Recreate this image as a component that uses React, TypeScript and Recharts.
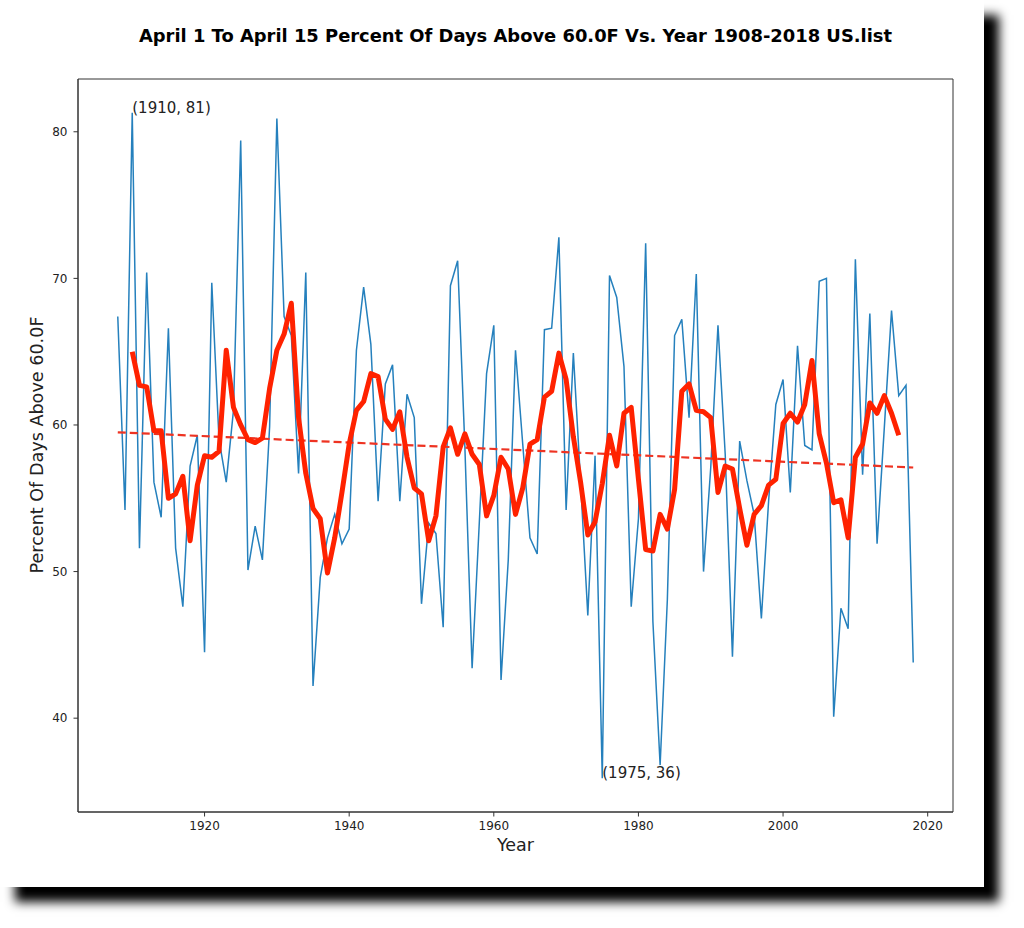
import { Line, LineChart, ReferenceArea, ReferenceDot, XAxis, YAxis } from "recharts";

// April 1-15, percent of days above 60.0F, US.list, 1908-2018
const years = [
	1908, 1909, 1910, 1911, 1912, 1913, 1914, 1915, 1916, 1917, 1918, 1919, 1920, 1921, 1922, 1923, 1924, 1925,
	1926, 1927, 1928, 1929, 1930, 1931, 1932, 1933, 1934, 1935, 1936, 1937, 1938, 1939, 1940, 1941, 1942, 1943,
	1944, 1945, 1946, 1947, 1948, 1949, 1950, 1951, 1952, 1953, 1954, 1955, 1956, 1957, 1958, 1959, 1960, 1961,
	1962, 1963, 1964, 1965, 1966, 1967, 1968, 1969, 1970, 1971, 1972, 1973, 1974, 1975, 1976, 1977, 1978, 1979,
	1980, 1981, 1982, 1983, 1984, 1985, 1986, 1987, 1988, 1989, 1990, 1991, 1992, 1993, 1994, 1995, 1996, 1997,
	1998, 1999, 2000, 2001, 2002, 2003, 2004, 2005, 2006, 2007, 2008, 2009, 2010, 2011, 2012, 2013, 2014, 2015,
	2016, 2017, 2018,
];

const percentAbove = [
	67.4, 54.2, 81.3, 51.6, 70.4, 56.1, 53.7, 66.6, 51.6, 47.6, 57.2, 59.3, 44.5, 69.7, 59.0, 56.1, 61.0, 79.4,
	50.1, 53.1, 50.8, 59.9, 80.9, 67.4, 66.1, 56.7, 70.4, 42.2, 49.6, 52.3, 53.9, 51.9, 52.9, 65.1, 69.4, 65.5,
	54.8, 62.8, 64.1, 54.8, 62.1, 60.5, 47.8, 53.3, 52.6, 46.2, 69.5, 71.2, 58.5, 43.4, 53.4, 63.5, 66.8, 42.6,
	50.8, 65.1, 58.7, 52.3, 51.2, 66.5, 66.6, 72.8, 54.2, 64.9, 56.1, 47.0, 57.9, 35.9, 70.2, 68.7, 64.0, 47.6,
	53.6, 72.4, 46.6, 36.8, 48.1, 66.1, 67.2, 60.5, 70.3, 50.0, 57.1, 66.8, 58.0, 44.2, 58.9, 56.2, 53.9, 46.8,
	54.8, 61.4, 63.1, 55.4, 65.4, 58.6, 58.3, 69.8, 70.0, 40.1, 47.5, 46.1, 71.3, 56.6, 67.6, 51.9, 59.8, 67.8,
	62.0, 62.7, 43.8,
];

// 5 year centred average, 1910-2016
const averageYears = [1910, 2016];
const movingAverage = [
	65.0, 62.7, 62.6, 59.6, 59.6, 55.0, 55.3, 56.5, 52.1, 55.9, 57.9, 57.8, 58.2, 65.1, 61.2, 60.0, 59.0, 58.8,
	59.1, 62.5, 65.1, 66.2, 68.3, 60.5, 56.7, 54.3, 53.6, 49.9, 52.3, 55.4, 58.7, 61.0, 61.6, 63.5, 63.3, 60.4,
	59.7, 60.9, 57.8, 55.7, 55.3, 52.1, 53.8, 58.5, 59.8, 58.0, 59.4, 58.0, 57.3, 53.8, 55.2, 57.8, 57.0, 53.9,
	55.7, 58.7, 59.0, 61.9, 62.3, 64.9, 63.1, 59.2, 56.1, 52.5, 53.4, 56.0, 59.3, 57.2, 60.8, 61.2, 56.3, 51.5,
	51.4, 53.9, 52.9, 55.6, 62.3, 62.8, 61.0, 60.9, 60.5, 55.4, 57.2, 57.0, 54.3, 51.8, 53.9, 54.5, 55.9, 56.3,
	60.1, 60.8, 60.2, 61.4, 64.4, 59.4, 57.4, 54.7, 54.9, 52.3, 57.8, 58.7, 61.5, 60.8, 62.0, 60.8, 59.3,
];

const trendYears = [1908, 2018];
const trendValues = [59.5, 57.1];

const xTicks = [1920, 1940, 1960, 1980, 2000, 2020];
const yTicks = [40, 50, 60, 70, 80];

const annotations = [
	{ year: 1910, value: 81.3, text: "(1910, 81)" },
	{ year: 1975, value: 35.9, text: "(1975, 36)" },
];

const font = "'DejaVu Sans', sans-serif";
const xDomain = [1902.5, 2023.5];
const yDomain = [33.6, 83.6];

const rows = years.map((year, i) => {
	const j = year - averageYears[0];
	return {
		year,
		percent: percentAbove[i],
		avg: year >= averageYears[0] && year <= averageYears[1] ? movingAverage[j] : null,
	};
});

const trendRows = trendYears.map((year, i) => ({ year, trend: trendValues[i] }));

const tickStyle = { fontSize: 12, fill: "#222", fontFamily: font };

export default function App() {
	return (
		<div style={{ position: "absolute", left: 0, top: 0, width: 1024, height: 928, background: "#fff" }}>
			<div
				style={{
					position: "absolute",
					left: 0,
					top: 0,
					width: 984,
					height: 887,
					background: "#fff",
					boxShadow: "15px 15px 10px #000",
				}}
			>
				<LineChart
					width={984}
					height={887}
					data={rows}
					margin={{ top: 79, right: 31, bottom: 35, left: 18 }}
				>
					<XAxis
						dataKey="year"
						type="number"
						domain={xDomain}
						ticks={xTicks}
						allowDataOverflow
						height={40}
						stroke="#333"
						tick={tickStyle}
						tickSize={4.5}
						tickMargin={5}
					/>
					<YAxis
						type="number"
						domain={yDomain}
						ticks={yTicks}
						allowDataOverflow
						width={60}
						stroke="#333"
						tick={tickStyle}
						tickSize={4.5}
						tickMargin={6}
					/>
					<ReferenceArea
						x1={xDomain[0]}
						x2={xDomain[1]}
						y1={yDomain[0]}
						y2={yDomain[1]}
						fill="none"
						stroke="#333"
						strokeWidth={1}
						ifOverflow="visible"
					/>
					<Line
						dataKey="percent"
						stroke="#2580bd"
						strokeWidth={1.5}
						dot={false}
						isAnimationActive={false}
					/>
					<Line
						data={trendRows}
						dataKey="trend"
						stroke="#ee3322"
						strokeWidth={2.2}
						strokeDasharray="8 4"
						dot={false}
						isAnimationActive={false}
					/>
					<Line
						dataKey="avg"
						stroke="#ff2200"
						strokeWidth={5}
						strokeLinejoin="round"
						dot={false}
						isAnimationActive={false}
					/>
					{annotations.map((a) => (
						<ReferenceDot
							key={a.text}
							x={a.year}
							y={a.value}
							r={0}
							shape={(p: any) => (
								<text x={p.cx} y={p.cy} fontSize={15} fontFamily={font} fill="#222">
									{a.text}
								</text>
							)}
						/>
					))}
				</LineChart>
				<svg
					width={984}
					height={887}
					style={{ position: "absolute", left: 0, top: 0, pointerEvents: "none" }}
				>
					<text x={515.5} y={42} textAnchor="middle" fontSize={17.9} fontWeight="bold" fontFamily={font} fill="#000">
						April 1 To April 15 Percent Of Days Above 60.0F Vs. Year 1908-2018 US.list
					</text>
					<text x={515.5} y={851} textAnchor="middle" fontSize={17.5} fontFamily={font} fill="#222">
						Year
					</text>
					<text
						x={43}
						y={445}
						textAnchor="middle"
						fontSize={17.6}
						fontFamily={font}
						fill="#222"
						transform="rotate(-90 43 445)"
					>
						Percent Of Days Above 60.0F
					</text>
				</svg>
			</div>
		</div>
	);
}
